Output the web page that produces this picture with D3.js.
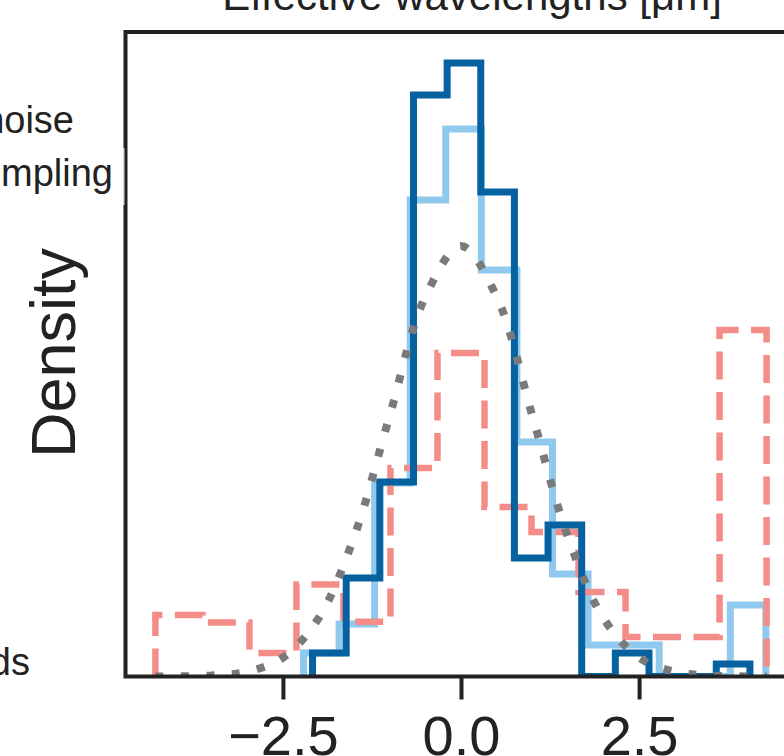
<!DOCTYPE html>
<html>
<head>
<meta charset="utf-8">
<script src="https://cdn.jsdelivr.net/npm/d3@7"></script>
<style>
  html, body { margin: 0; padding: 0; background: #fff; }
  svg { display: block; }
  text { font-family: "Liberation Sans", Arial, Helvetica, sans-serif; fill: #222; }
</style>
</head>
<body>
<svg id="chart" width="784" height="756"></svg>
<script>
// ---- data -------------------------------------------------------------
// Step histograms (density), 13 bins each, spanning [lo, hi]
const lightRange = [-2.211, 4.28];
const lightDensity = [0.0218, 0.0487, 0.1793, 0.4416, 0.5074, 0.3767, 0.2173,
                      0.0950, 0.0292, 0.0292, 0.0, 0.0, 0.0663];

const redRange = [-4.29, 4.29];
const redDensity = [0.0570, 0.0500, 0.0218, 0.0853, 0.0508, 0.1932, 0.2998,
                    0.1571, 0.1339, 0.0783, 0.0366, 0.0366, 0.3211];

const darkRange = [-2.084, 4.056];
const darkDensity = [0.0218, 0.0913, 0.1803, 0.5389, 0.5686, 0.4490, 0.1098,
                     0.1404, 0.0, 0.0218, 0.0, 0.0, 0.0116];

// Reference normal density curve
const refX = [-4.29, -3.5, -3.0, -2.5, -2.0, -1.5, -1.0, -0.5, 0.0,
              0.5, 1.0, 1.5, 2.0, 2.5, 3.0, 3.5, 4.29];
const refY = [0.0000, 0.0009, 0.0044, 0.0175, 0.0540, 0.1295, 0.2420, 0.3521, 0.3989,
              0.3521, 0.2420, 0.1295, 0.0540, 0.0175, 0.0044, 0.0009, 0.0000];

const xTicks = [-2.5, 0.0, 2.5];
const xDomain = [-4.71, 4.71];
const yDomain = [0, 0.5973];

// ---- layout -----------------------------------------------------------
const svg = d3.select("#chart");
const plot = { left: 125.5, right: 796.5, top: 32, bottom: 676.5 };

const x = d3.scaleLinear().domain(xDomain).range([plot.left, plot.right]);
const y = d3.scaleLinear().domain(yDomain).range([plot.bottom, plot.top]);

svg.append("defs").append("clipPath").attr("id", "plotClip")
  .append("rect")
  .attr("x", plot.left).attr("y", plot.top)
  .attr("width", plot.right - plot.left).attr("height", plot.bottom - plot.top);

const g = svg.append("g").attr("clip-path", "url(#plotClip)");

// outline of a step histogram: up from the first edge, across each bin, down at the end
function stepPoints(range, dens) {
  const n = dens.length;
  const edges = d3.range(n + 1).map(i => range[0] + i * (range[1] - range[0]) / n);
  const pts = [[edges[0], 0]];
  dens.forEach((d, i) => { pts.push([edges[i], d]); pts.push([edges[i + 1], d]); });
  pts.push([edges[n], 0]);
  return pts;
}

const stepLine = d3.line().x(p => x(p[0])).y(p => y(p[1])).curve(d3.curveLinear);

const series = [
  { range: lightRange, dens: lightDensity, color: "#8fc9ee", width: 7, dash: null },
  { range: redRange,   dens: redDensity,   color: "#f48c88", width: 6.5, dash: "28 12.5" },
  { range: darkRange,  dens: darkDensity,  color: "#0661a1", width: 7, dash: null }
];

series.forEach(s => {
  g.append("path")
    .attr("d", stepLine(stepPoints(s.range, s.dens)))
    .attr("fill", "none")
    .attr("stroke", s.color)
    .attr("stroke-width", s.width)
    .attr("stroke-linejoin", "miter")
    .attr("stroke-linecap", "butt")
    .attr("stroke-dasharray", s.dash);
});

// dotted reference curve
const refLine = d3.line()
  .x((d, i) => x(refX[i]))
  .y(d => y(d))
  .curve(d3.curveCatmullRom.alpha(0.5));

g.append("path")
  .attr("d", refLine(refY))
  .attr("fill", "none")
  .attr("stroke", "#7a7a7a")
  .attr("stroke-width", 8)
  .attr("stroke-linecap", "butt")
  .attr("stroke-dasharray", "8 17.5");

// ---- frame ------------------------------------------------------------
svg.append("rect")
  .attr("x", plot.left).attr("y", plot.top)
  .attr("width", plot.right - plot.left).attr("height", plot.bottom - plot.top)
  .attr("fill", "none").attr("stroke", "#222").attr("stroke-width", 4);

// x axis ticks and labels
const xAxis = d3.axisBottom(x)
  .tickValues(xTicks)
  .tickFormat(d3.format(".1f"))
  .tickSize(23)
  .tickPadding(15.5);

const ax = svg.append("g")
  .attr("transform", `translate(0,${plot.bottom})`)
  .call(xAxis);
ax.select(".domain").remove();
ax.selectAll(".tick line").attr("stroke", "#222").attr("stroke-width", 4);
ax.selectAll(".tick text")
  .attr("fill", "#222")
  .style("font-size", "56px")
  .style("font-family", "'Liberation Sans', Arial, Helvetica, sans-serif");

// y label
svg.append("text")
  .attr("transform", "translate(75,353) rotate(-90)")
  .attr("text-anchor", "middle")
  .style("font-size", "63px")
  .text("Density");

// title
svg.append("text")
  .attr("x", 472).attr("y", 10)
  .attr("text-anchor", "middle")
  .style("font-size", "42px")
  .text("Effective wavelengths [μm]");

// neighbouring legend overlapping the left edge
svg.append("rect")
  .attr("x", 118).attr("y", 148).attr("width", 6).attr("height", 57)
  .attr("fill", "#fff").attr("fill-opacity", 0.7);
svg.append("line")
  .attr("x1", 124).attr("x2", 124).attr("y1", 148).attr("y2", 205)
  .attr("stroke", "#d4d4d4").attr("stroke-width", 1);

const legendFrag = [
  { text: "noise",  x: 74,  y: 133 },
  { text: "mpling", x: 113, y: 186 },
  { text: "ds",     x: 30,  y: 675 }
];
svg.selectAll("text.frag").data(legendFrag).join("text")
  .attr("class", "frag")
  .attr("x", d => d.x).attr("y", d => d.y)
  .attr("text-anchor", "end")
  .style("font-size", "38px")
  .text(d => d.text);
</script>
</body>
</html>
